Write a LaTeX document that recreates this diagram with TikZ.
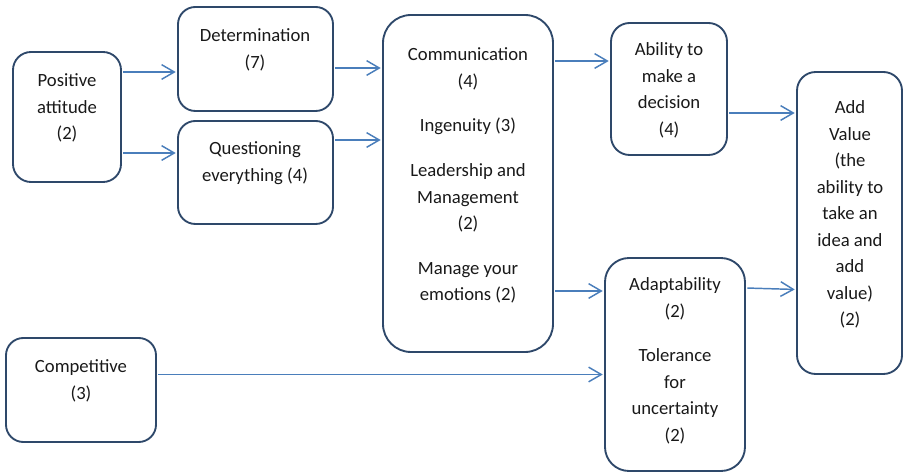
\documentclass[tikz,border=0pt]{standalone}
\usepackage{fontspec}
\setmainfont{Carlito}
\usetikzlibrary{arrows.meta,fit}
\definecolor{boxline}{RGB}{46,72,106}
\definecolor{arrblue}{RGB}{74,126,187}
\tikzset{
  box/.style={draw=boxline, line width=1.4pt, inner sep=0pt},
  lbl/.style={align=center, font=\fontsize{14}{19.9}\selectfont, inner sep=0pt, anchor=north, text=black!90},
  arr/.style={draw=arrblue, line width=1.1pt, -{Straight Barb[length=9.5pt, width=11pt, line width=1.1pt]}, shorten <=1pt, shorten >=1pt}
}
\begin{document}
\begin{tikzpicture}[x=0.75pt, y=-0.75pt]
\useasboundingbox (0,0) rectangle (903,473);
% boxes
\node[box, rounded corners=13.5pt, fit={(13,52) (121,182)}] (pa) {};
\node[box, rounded corners=13pt, fit={(178,7) (333,111)}] (det) {};
\node[box, rounded corners=13pt, fit={(178,121) (333,224)}] (que) {};
\node[box, rounded corners=21pt, fit={(383,15) (553,352)}] (com) {};
\node[box, rounded corners=14pt, fit={(611,23) (727,155)}] (abl) {};
\node[box, rounded corners=14pt, fit={(797,72) (902,374)}] (val) {};
\node[box, rounded corners=18pt, fit={(605,258) (745,471)}] (ada) {};
\node[box, rounded corners=13pt, fit={(6,338) (156,442)}] (cpt) {};
% texts
\node[lbl] (tpa) at (67,73.5) {Positive\\attitude\\(2)};
\node[lbl] (tdet) at (255,28.5) {Determination\\(7)};
\node[lbl] (tque) at (255,141.5) {Questioning\\everything (4)};
\node[lbl] (tcom) at (468,47.5) {Communication\\(4)\\[13.6pt]Ingenuity (3)\\[13.6pt]Leadership and\\Management\\(2)\\[13.6pt]Manage your\\emotions (2)};
\node[lbl] (tabl) at (669,42.5) {Ability to\\make a\\decision\\(4)};
\node[lbl] (tval) at (850,100.5) {Add\\Value\\(the\\ability to\\take an\\idea and\\add\\value)\\(2)};
\node[lbl] (tada) at (675,277.5) {Adaptability\\(2)\\[13.6pt]Tolerance\\for\\uncertainty\\(2)};
\node[lbl] (tcpt) at (81,359.5) {Competitive\\(3)};
% connectors
\draw[arr] (pa.east |- 0,72) -- (det.west |- 0,72);
\draw[arr] (pa.east |- 0,153) -- (que.west |- 0,153);
\draw[arr] (det.east |- 0,68) -- (com.west |- 0,68);
\draw[arr] (que.east |- 0,140) -- (com.west |- 0,140);
\draw[arr] (com.east |- 0,61) -- (abl.west |- 0,61);
\draw[arr] (abl.east |- 0,113) -- (val.west |- 0,113);
\draw[arr] (com.east |- 0,291) -- (ada.west |- 0,291);
\draw[arr] (cpt.east |- 0,374.5) -- (ada.west |- 0,374.5);
\draw[arr] (ada.east |- 0,288) -- (val.west |- 0,289.5);
\end{tikzpicture}
\end{document}
